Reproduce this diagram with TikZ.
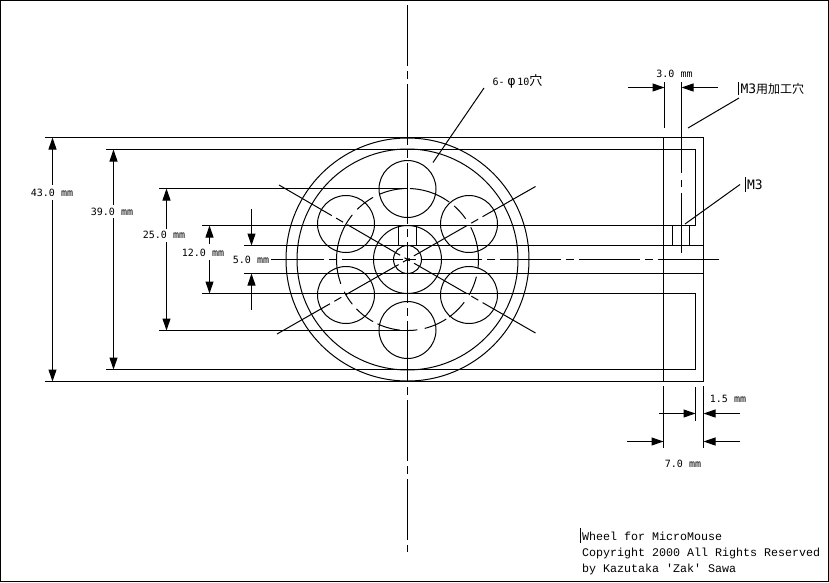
\documentclass[tikz,border=0pt]{standalone}
\usepackage{fontspec}
\setmainfont{DejaVu Sans Mono}
\newfontfamily\jpfont{Noto Sans CJK JP}
\newfontfamily\footfont{Liberation Mono}
\usetikzlibrary{arrows.meta}
\tikzset{
	chain/.style={dash pattern=on 61pt off 5pt on 8pt off 5pt},
	dimtext/.style={font=\fontsize{10}{12}\selectfont, inner sep=0pt},
	foot/.style={font=\footfont\fontsize{11.67}{14}\selectfont, anchor=west, inner sep=0pt}
}
\begin{document}
\begin{tikzpicture}[x=1pt,y=-1pt,line width=1pt,>={Triangle[length=12pt,width=8pt]}]
\useasboundingbox (0,0) rectangle (829,582);
\draw (0.5,0.5) rectangle (828.5,581.5);
% body outline
\draw (45,137.5) -- (703.5,137.5) -- (703.5,381.5) -- (45,381.5);
\draw (106,149.5) -- (695.5,149.5) -- (695.5,225.5) -- (202,225.5);
\draw (202,293.5) -- (695.5,293.5) -- (695.5,369.5) -- (106,369.5);
\foreach \y in {245.5,273.5}
	\draw (244,\y) -- (703.5,\y);
\foreach \y in {188.5,330.5}
	\draw (159,\y) -- (407.5,\y);
\draw (663.5,137.5) -- (663.5,381.5);
\foreach \x in {398.5,416.5,672.5,689.5}
	\draw (\x,225.5) -- (\x,245.5);
% wheel
\foreach \r in {121.5,110.5,34,14}
	\draw (407.5,259.5) circle [radius=\r pt];
\foreach \x/\y in {407.5/189,407.5/330,346/224,469/224,346/295,469/295}
	\draw (\x,\y) circle [radius=28.5pt];
\foreach \a/\b in {-7/27,35/49,54/88,93/113,119/135,141/200,207/219,224/241,245/264,270/278,284/303,306/323,330/346}
	\draw [domain=\a:\b, smooth, samples=10, variable=\t] plot ({407.5+71*cos(\t)},{259.5-71*sin(\t)});
% centre lines
\draw [chain] (407.5,5) -- (407.5,552);
\draw [chain] (719,259.5) -- (271,259.5);
\foreach \x/\y in {279/185,535.5/186.5,277/334,535.5/333}
	\draw [chain] (\x,\y) -- (407.5,259.5);
\draw [dash pattern=on 91pt off 7pt on 7pt off 6pt] (681.5,82) -- (681.5,253);
% left dimensions
\node [dimtext] (dimA) at (52,193) {43.0 mm};
\draw [->] (52.5,185) -- (52.5,137.5);
\draw [->] (52.5,200) -- (52.5,381.5);
\node [dimtext] (dimB) at (112,211.5) {39.0 mm};
\draw [->] (113.5,205) -- (113.5,149.5);
\draw [->] (113.5,218) -- (113.5,369.5);
\node [dimtext] (dimC) at (164,234.5) {25.0 mm};
\draw [->] (166.5,229) -- (166.5,188.5);
\draw [->] (166.5,242) -- (166.5,330.5);
\node [dimtext] (dimD) at (203,252.5) {12.0 mm};
\draw [->] (209.5,244) -- (209.5,225.5);
\draw [->] (209.5,260) -- (209.5,293.5);
\node [dimtext] (dimE) at (251,260) {5.0 mm};
\draw [->] (251.5,209) -- (251.5,245.5);
\draw [->] (251.5,310) -- (251.5,273.5);
% right dimensions
\node [dimtext] (dimF) at (674.5,74) {3.0 mm};
\draw (664.5,82) -- (664.5,128);
\draw [->] (628,87.5) -- (664.5,87.5);
\draw [->] (718,87.5) -- (681.5,87.5);
\node [dimtext] (dimG) at (728,399) {1.5 mm};
\node [dimtext] (dimH) at (683,463.5) {7.0 mm};
\draw (663.5,386) -- (663.5,448);
\draw (703.5,386) -- (703.5,448);
\draw (695.5,387) -- (695.5,421);
\draw [->] (659,413.5) -- (695.5,413.5);
\draw [->] (740,413.5) -- (703.5,413.5);
\draw [->] (627,441.5) -- (663.5,441.5);
\draw [->] (740,441.5) -- (703.5,441.5);
% notes
\node [dimtext, anchor=west] (noteHole) at (492,81) {6-\kern3pt{\fontsize{13}{13}\selectfont φ}\kern2pt 10{\jpfont\fontsize{13}{13}\selectfont 穴}};
\coordinate (holeTip) at (433,162.5);
\draw (holeTip) -- ([shift={(-8pt,-7pt)}]noteHole.west);
\node [dimtext, anchor=west, font=\fontsize{13}{13}\selectfont] (noteTap) at (740,89) {M3{\jpfont\fontsize{12}{12}\selectfont 用加工穴}};
\draw (738.5,82) -- (738.5,95);
\coordinate (tapTip) at (688,128);
\draw (tapTip) -- ([shift={(-1pt,-9pt)}]noteTap.west);
\node [dimtext, anchor=west, font=\fontsize{13}{13}\selectfont] (noteScrew) at (746.5,184.5) {M3};
\draw (745.5,177) -- (745.5,192);
\coordinate (screwTip) at (685,224);
\draw (screwTip) -- ([xshift=-6.5pt]noteScrew.west);
% title block
\draw (580.5,528) -- (580.5,543);
\node [foot] (titleA) at (581.5,536.5) {Wheel for MicroMouse};
\node [foot] (titleB) at (581.5,553) {Copyright 2000 All Rights Reserved};
\node [foot] (titleC) at (581.5,569) {by Kazutaka 'Zak' Sawa};
\end{tikzpicture}
\end{document}
